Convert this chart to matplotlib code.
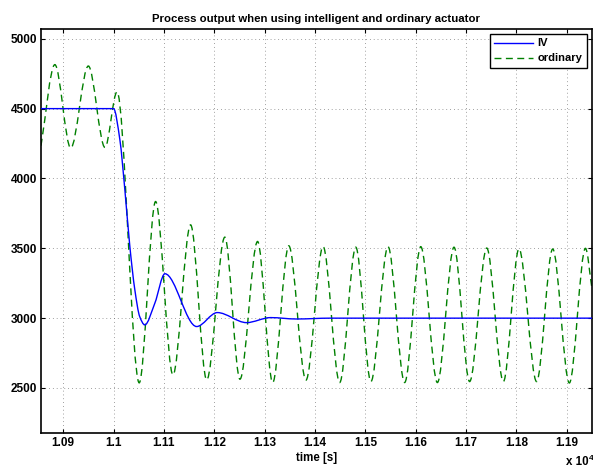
import numpy as np
import matplotlib
matplotlib.use("Agg")
import matplotlib.pyplot as plt
from matplotlib.path import Path
from matplotlib.patches import PathPatch
from matplotlib.lines import Line2D

plt.rcParams['font.family'] = ['Liberation Sans', 'DejaVu Sans']
plt.rcParams['font.weight'] = 'bold'

# values (time in s, process output)
iv_time = [10856, 11000, 11012.6, 11022.5, 11032.4, 11042.3, 11052, 11062,
           11082, 11102, 11165, 11206, 11264, 11312, 11363, 11430, 11950]
iv_value = [4500, 4500, 4277, 3919, 3513, 3203, 3011, 2952,
            3107, 3318, 2940, 3040, 2968, 3004, 2994, 3000, 3000]

ord_time = [10856, 10883.5, 10915, 10950, 10983, 11007, 11051, 11083.5,
            11118, 11153, 11185, 11221, 11251, 11286, 11316, 11348,
            11382, 11416, 11449, 11481, 11511, 11545, 11578, 11610,
            11643, 11676, 11707, 11741, 11774, 11805, 11840, 11872,
            11905, 11937, 11950]
ord_value = [4235, 4815, 4218, 4805, 4222, 4620, 2537, 3835,
             2594, 3668, 2558, 3580, 2563, 3549, 2539, 3518,
             2556, 3513, 2539, 3508, 2546, 3512, 2539, 3512,
             2539, 3508, 2546, 3502, 2546, 3496, 2546, 3495,
             2536, 3500, 3210]

xticks = [10900, 11000, 11100, 11200, 11300, 11400, 11500, 11600, 11700, 11800, 11900]
xtick_labels = ['1.09', '1.1', '1.11', '1.12', '1.13', '1.14', '1.15', '1.16', '1.17', '1.18', '1.19']
yticks = [2500, 3000, 3500, 4000, 4500, 5000]


def smooth_path(xs, ys):
    # monotone cubic (pchip style) curve through the points, drawn as bezier segments
    xs = np.asarray(xs, float)
    ys = np.asarray(ys, float)
    h = np.diff(xs)
    delta = np.diff(ys) / h
    d = np.zeros_like(xs)
    for k in range(1, len(xs) - 1):
        if delta[k - 1] * delta[k] > 0:
            w1 = 2 * h[k] + h[k - 1]
            w2 = h[k] + 2 * h[k - 1]
            d[k] = (w1 + w2) / (w1 / delta[k - 1] + w2 / delta[k])
    d[0] = delta[0]
    d[-1] = delta[-1]
    verts = [(xs[0], ys[0])]
    codes = [Path.MOVETO]
    for k in range(len(h)):
        verts.append((xs[k] + h[k] / 3, ys[k] + d[k] * h[k] / 3))
        verts.append((xs[k + 1] - h[k] / 3, ys[k + 1] - d[k + 1] * h[k] / 3))
        verts.append((xs[k + 1], ys[k + 1]))
        codes += [Path.CURVE4] * 3
    return Path(verts, codes)


fig = plt.figure(figsize=(5.93, 4.68), dpi=100)
ax = fig.add_axes([41 / 593, 35.3 / 468, 551 / 593, 403.7 / 468])

blue = (0, 0, 1)
green = (0, 0.5, 0)
dash = (0, (5, 3.2))

ax.add_patch(PathPatch(smooth_path(iv_time, iv_value), fill=False,
                       edgecolor=blue, lw=1.0, zorder=3))
ax.add_patch(PathPatch(smooth_path(ord_time, ord_value), fill=False,
                       edgecolor=green, lw=1.0, linestyle=dash, zorder=2))

ax.set_xlim(10856, 11950)
ax.set_ylim(2180, 5070)
ax.set_xticks(xticks)
ax.set_xticklabels(xtick_labels)
ax.set_yticks(yticks)

ax.grid(True, color='#6a6a6a', linestyle=(0, (1, 4)), linewidth=0.55)
ax.tick_params(direction='in', length=3, width=0.8, top=True, right=True,
               labelsize=8.5, pad=3)
for lab in ax.get_xticklabels() + ax.get_yticklabels():
    lab.set_fontweight('bold')
for sp in ax.spines.values():
    sp.set_linewidth(1.2)
    sp.set_color('black')

ax.set_title('Process output when using intelligent and ordinary actuator',
             fontsize=8.2, fontweight='bold', pad=5)
ax.set_xlabel('time [s]', fontsize=8.3, fontweight='bold', labelpad=2)

handles = [Line2D([], [], color=blue, lw=1.0, label='IV'),
           Line2D([], [], color=green, lw=1.0, linestyle=dash, label='ordinary')]
leg = ax.legend(handles=handles, loc='upper right', fontsize=8, frameon=True,
                fancybox=False, framealpha=1, edgecolor='black',
                handlelength=3.5, handletextpad=0.4, labelspacing=0.45,
                borderpad=0.4, borderaxespad=0.45)
leg.get_frame().set_linewidth(1.0)
for t in leg.get_texts():
    t.set_fontweight('bold')

fig.text(566 / 593, 6 / 468, 'x 10', fontsize=8.3, fontweight='bold',
         ha='left', va='center')
fig.text(589 / 593, 10 / 468, '4', fontsize=6, fontweight='bold',
         ha='left', va='center')

fig.savefig('out.png', dpi=100)
